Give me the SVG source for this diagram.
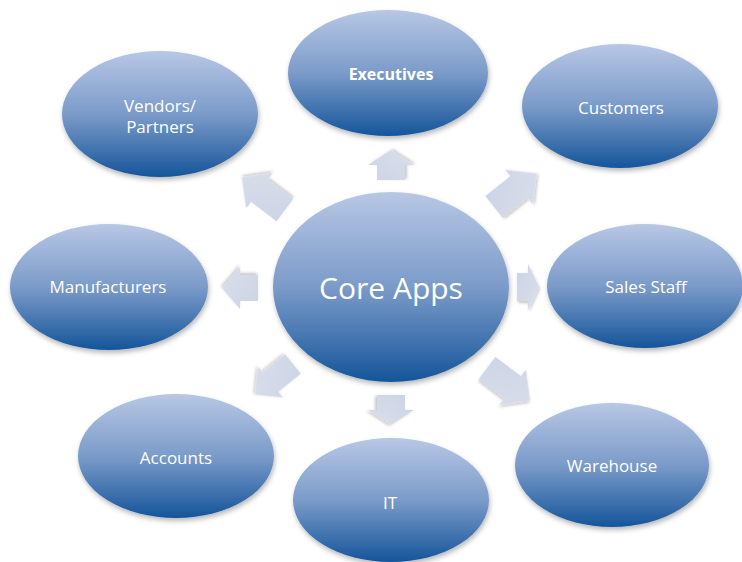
<svg xmlns="http://www.w3.org/2000/svg" width="742" height="562" viewBox="0 0 742 562">
<defs>
<linearGradient id="eg" x1="0" y1="0" x2="0" y2="1">
<stop offset="0" stop-color="#b8c7e5"/>
<stop offset="0.5" stop-color="#7b9bc9"/>
<stop offset="1" stop-color="#15559a"/>
</linearGradient>
<linearGradient id="ag" x1="0" y1="0" x2="1" y2="1">
<stop offset="0" stop-color="#ccd4e6"/>
<stop offset="1" stop-color="#d9dee9"/>
</linearGradient>
<filter id="sh" x="-20%" y="-20%" width="140%" height="150%">
<feDropShadow dx="1" dy="3" stdDeviation="2.5" flood-color="#000" flood-opacity="0.28"/>
</filter>
<filter id="ash" x="-30%" y="-30%" width="160%" height="160%">
<feDropShadow dx="1" dy="2" stdDeviation="1.5" flood-color="#000" flood-opacity="0.22"/>
</filter>
<path id="diag" d="M0,-14 L32,-14 L32,-22 L54,0 L32,22 L32,14 L0,14 Z"/>
</defs>
<style>
.node ellipse{fill:url(#eg);filter:url(#sh);}
.node text{fill:#fff;font-family:"Open Sans","Liberation Sans",sans-serif;font-size:17px;text-anchor:middle;}
.arr path,.arr use{fill:url(#ag);filter:url(#ash);}
</style>
<rect width="742" height="562" fill="#fff"/>
<g id="connectors" class="arr">
<use href="#diag" transform="translate(285,210) rotate(217)"/>
<use href="#diag" transform="translate(494,207) rotate(-38.5)"/>
<use href="#diag" transform="translate(487,368) rotate(37)"/>
<use href="#diag" transform="translate(293,364) rotate(141) scale(0.9)"/>
<path d="M0,-14 L15,-14 L15,-23 L30,0 L15,23 L15,14 L0,14 Z" transform="translate(391,180) rotate(-90)"/>
<path d="M0,-14 L15,-14 L15,-23 L30,0 L15,23 L15,14 L0,14 Z" transform="translate(391,395) rotate(90)"/>
<path d="M0,-13 L18,-13 L18,-21 L36,0 L18,21 L18,13 L0,13 Z" transform="translate(258,288) rotate(180)"/>
<path d="M0,-14 L11,-14 L11,-23 L22,0 L11,23 L11,14 L0,14 Z" transform="translate(517,287)"/>
</g>
<g id="core" class="node">
<ellipse cx="391" cy="287" rx="118" ry="95"/>
<text x="391" y="299" style="font-size:30px">Core Apps</text>
</g>
<g id="executives" class="node">
<ellipse cx="388" cy="73" rx="100" ry="63"/>
<text x="391" y="80" style="font-weight:bold;font-size:16px">Executives</text>
</g>
<g id="vendors" class="node">
<ellipse cx="160" cy="114" rx="98" ry="63"/>
<text x="160" y="112">Vendors/</text>
<text x="160" y="133">Partners</text>
</g>
<g id="customers" class="node">
<ellipse cx="620" cy="106" rx="98" ry="62"/>
<text x="621" y="114">Customers</text>
</g>
<g id="manufacturers" class="node">
<ellipse cx="109" cy="287" rx="99" ry="63"/>
<text x="108" y="293">Manufacturers</text>
</g>
<g id="sales" class="node">
<ellipse cx="645" cy="286" rx="98" ry="62"/>
<text x="646" y="293">Sales Staff</text>
</g>
<g id="accounts" class="node">
<ellipse cx="176" cy="456" rx="98" ry="62"/>
<text x="176" y="464">Accounts</text>
</g>
<g id="it" class="node">
<ellipse cx="391" cy="500" rx="98" ry="62"/>
<text x="390" y="509">IT</text>
</g>
<g id="warehouse" class="node">
<ellipse cx="612" cy="465" rx="97" ry="62"/>
<text x="612" y="472">Warehouse</text>
</g>
</svg>
